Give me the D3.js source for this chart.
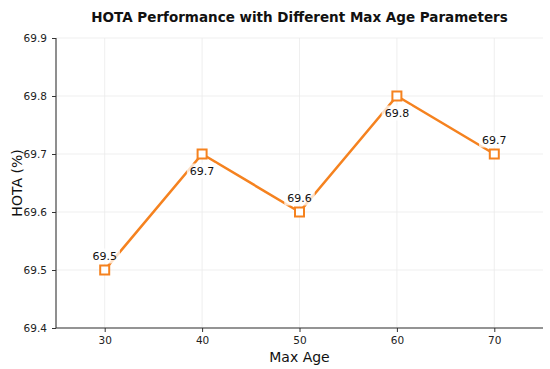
<!DOCTYPE html>
<html><head><meta charset="utf-8">
<script src="https://cdn.jsdelivr.net/npm/d3@7"></script>
<style>body{margin:0;background:#fff;} svg{display:block;font-family:"DejaVu Sans",sans-serif;}</style>
</head><body>
<svg id="c" width="550" height="369"></svg>
<script>
const maxAges = [30, 40, 50, 60, 70];
const hota = [69.5, 69.7, 69.6, 69.8, 69.7];
const labelPos = ["above", "below", "above", "below", "above"];
const yTicks = [69.4, 69.5, 69.6, 69.7, 69.8, 69.9];
const xTicks = [30, 40, 50, 60, 70];

const svg = d3.select("#c");
const L = 56, R = 543, T = 38, B = 328;
const x = d3.scaleLinear().domain([25, 75]).range([L, R]);
const y = d3.scaleLinear().domain([69.4, 69.9]).range([B, T]);
const color = "#f5821f";

// grid
svg.append("g").selectAll("line").data(xTicks).join("line")
  .attr("x1", d => x(d)).attr("x2", d => x(d)).attr("y1", T).attr("y2", B)
  .attr("stroke", "#ebebeb").attr("stroke-width", 0.8);
svg.append("g").selectAll("line").data(yTicks).join("line")
  .attr("x1", L).attr("x2", R).attr("y1", d => y(d)).attr("y2", d => y(d))
  .attr("stroke", "#ebebeb").attr("stroke-width", 0.8);

// axes
const xa = svg.append("g").attr("transform", `translate(0,${B})`)
  .call(d3.axisBottom(x).tickValues(xTicks).tickSize(4).tickPadding(5).tickFormat(d3.format("d")));
const ya = svg.append("g").attr("transform", `translate(${L},0)`)
  .call(d3.axisLeft(y).tickValues(yTicks).tickSize(4).tickPadding(5).tickFormat(d3.format(".1f")));
[xa, ya].forEach(a => {
  a.select(".domain").attr("stroke", "#333").attr("stroke-width", 1.1);
  a.selectAll(".tick line").attr("stroke", "#333").attr("stroke-width", 1);
  a.selectAll(".tick text").attr("font-size", 10.5).attr("fill", "#222").attr("font-family", "DejaVu Sans");
});
xa.select(".domain").attr("d", `M${L},0H${R}`);
ya.select(".domain").attr("d", `M0,${B}V${T}`);

// line
const line = d3.line().x((d, i) => x(maxAges[i])).y(d => y(d));
svg.append("path").datum(hota).attr("d", line).attr("fill", "none")
  .attr("stroke", color).attr("stroke-width", 2.6).attr("stroke-linejoin", "round");

// labels with white bbox
const lg = svg.append("g");
hota.forEach((v, i) => {
  const cx = x(maxAges[i]);
  const cy = y(v) + (labelPos[i] === "above" ? -14 : 17);
  const t = lg.append("text").attr("x", cx).attr("y", cy).attr("text-anchor", "middle")
    .attr("dominant-baseline", "central").attr("font-size", 11).attr("fill", "#111")
    .text(d3.format(".1f")(v));
  const bb = t.node().getBBox();
  lg.insert("rect", "text").attr("x", bb.x - 3).attr("y", bb.y - 1).attr("width", bb.width + 6)
    .attr("height", bb.height + 2).attr("rx", 2).attr("fill", "#fff").attr("opacity", 0.75);
});

// markers
svg.append("g").selectAll("rect").data(hota).join("rect")
  .attr("x", (d, i) => x(maxAges[i]) - 4.5).attr("y", d => y(d) - 4.5)
  .attr("width", 9).attr("height", 9).attr("fill", "#fff")
  .attr("stroke", color).attr("stroke-width", 2);

// title & axis labels
svg.append("text").attr("x", (L + R) / 2).attr("y", 22).attr("text-anchor", "middle")
  .attr("font-size", 13.5).attr("font-weight", "bold").attr("fill", "#111")
  .text("HOTA Performance with Different Max Age Parameters");
svg.append("text").attr("x", (L + R) / 2).attr("y", 362).attr("text-anchor", "middle")
  .attr("font-size", 14).attr("fill", "#111").text("Max Age");
svg.append("text").attr("transform", `translate(22,${(T + B) / 2}) rotate(-90)`).attr("text-anchor", "middle")
  .attr("font-size", 14).attr("fill", "#111").text("HOTA (%)");
</script>
</body></html>
